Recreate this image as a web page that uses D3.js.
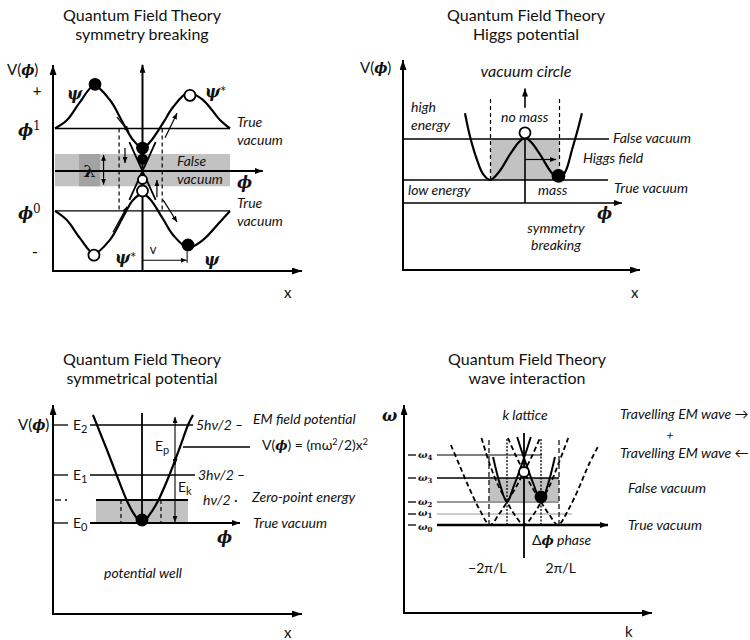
<!DOCTYPE html>
<html>
<head>
<meta charset="utf-8">
<script src="https://cdn.jsdelivr.net/npm/d3@7"></script>
<style>
  body { margin: 0; background: #fff; }
  svg { display: block; }
  text { font-family: Lato, "Open Sans", sans-serif; fill: #111; }
  .gk { font-family: "DejaVu Serif", serif; font-style: italic; font-weight: bold; }
  .sr { font-family: "DejaVu Serif", serif; }
</style>
</head>
<body>
<script>
// ---------- symmetry breaking (phi in field units, V in energy units) ----------
const sbUpper = [[-4,0.5],[-3.45,0.6],[-2.86,0.81],[-2.22,1.0],[-1.49,0.835],[-0.89,0.565],[-0.43,0.365],[0,0.27],[0.34,0.34],[0.94,0.565],[1.39,0.75],[2.08,0.92],[2.77,0.835],[3.54,0.6],[4,0.5]];
const sbLower = [[-4,-0.47],[-3.45,-0.58],[-2.86,-0.79],[-2.22,-0.97],[-1.49,-0.81],[-0.89,-0.54],[-0.43,-0.34],[0,-0.27],[0.34,-0.33],[0.94,-0.565],[1.39,-0.75],[2.08,-0.9],[2.77,-0.81],[3.54,-0.6],[4,-0.47]];
const sbVacua = [0.5, -0.47];
const sbBand = [-0.18, 0.2];
const sbWalls = [-1.07, 0.9];
const sbCross = [[[-0.6,0.34],[0.6,-0.34]], [[0.6,0.34],[-0.6,-0.34]]];
const sbStates = [
  {phi:-2.17, v:1.02, filled:true,  big:true},
  {phi: 2.17, v:0.89, filled:false, big:true},
  {phi:-2.22, v:-0.99, filled:false, big:true},
  {phi: 2.08, v:-0.87, filled:true,  big:true},
  {phi: 0, v:0.27,  filled:true,  big:true},
  {phi: 0, v:0.14,  filled:true,  big:false},
  {phi: 0, v:-0.1,  filled:false, big:false},
  {phi: 0, v:-0.235, filled:false, big:true}
];
const sbFlow = [
  [[-1.17,0.635],[-0.62,0.46]], [[-0.8,0.27],[-0.8,0.094]], [[0.66,-0.31],[0.66,-0.106]],
  [[1.03,0.39],[1.58,0.68]], [[-1.35,-0.72],[-0.71,-0.42]], [[0.94,-0.34],[1.58,-0.6]]
];

// ---------- Higgs potential ----------
const higgsCurve = [[-1.74,1.63],[-1.59,1.05],[-1.39,0.49],[-1.22,0.15],[-1.01,0],[-0.75,0.2],[-0.43,0.63],[-0.17,0.93],[0,1.02],[0.17,0.93],[0.43,0.63],[0.75,0.2],[0.99,0],[1.19,0.24],[1.36,0.73],[1.51,1.17],[1.65,1.63]];
const higgsFalseVac = 1;
const higgsTrueVac = 0;
const higgsAxis = -0.56;
const higgsMinima = [-1, 1];
const higgsStates = [{phi:0, v:1.15, filled:false}, {phi:0.97, v:0.1, filled:true}];

// ---------- harmonic well ----------
const wellCurve = [[-0.98,10.8],[-0.9,9.8],[-0.7,7.3],[-0.5,4.7],[-0.3,2.2],[-0.16,0.9],[0,0],[0.16,0.9],[0.32,2.2],[0.54,4.7],[0.76,7.6],[0.92,9.8],[1.02,10.8]];
const wellLevels = [0, 4.8, 9.8];
const wellLevelSubs = ["0", "1", "2"];
const wellQuanta = ["hν/2 ·", "3hν/2 –", "5hν/2 –"];
const zeroPoint = 2.3;
const zeroWalls = [-0.42, 0.38];
const wellState = {phi:0, v:0.3};

// ---------- lattice dispersion (k in units of 2π/L) ----------
const bandLeft   = [[-2.15,8.0],[-1.9,6.0],[-1.6,3.6],[-1.3,1.5],[-1.0,0],[-0.75,1.0],[-0.5,2.3],[-0.25,3.7],[0,5.3],[0.25,7.0],[0.47,8.7]];
const bandCenter = [[-1.25,8.7],[-1.0,6.0],[-0.75,3.9],[-0.5,2.3],[-0.25,0.9],[0,0],[0.25,0.9],[0.5,2.3],[0.75,3.9],[1.0,6.0],[1.3,8.7]];
const bandRight  = [[-0.47,8.7],[-0.25,7.0],[0,5.3],[0.25,3.7],[0.5,2.3],[0.75,1.0],[1.0,0],[1.3,1.5],[1.6,3.6],[1.9,6.0],[2.2,8.0]];
const latticeLeft  = [[-0.91,6.8],[-0.7,4.0],[-0.5,2.3],[-0.3,3.9],[0,6.7],[0.2,8.8]];
const latticeRight = [[0.91,6.8],[0.7,4.0],[0.5,2.3],[0.3,3.9],[0,6.7],[-0.2,8.8]];
const omegaValues = [0, 1.1, 2.3, 4.7, 7.0];
const omegaSubs = ["0", "1", "2", "3", "4"];
const kTickValues = [-1, 1];
const kTickLabels = ["−2π/L", "2π/L"];
const latticeStates = [{k:0, w:5.3, filled:false}, {k:0.5, w:2.8, filled:true}];

// ================= drawing =================
const svg = d3.select("body").append("svg").attr("width", 750).attr("height", 640);
const defs = svg.append("defs");
function marker(id, w, h) {
  defs.append("marker").attr("id", id)
    .attr("viewBox", `0 0 ${w} ${h}`).attr("refX", w).attr("refY", h / 2)
    .attr("markerWidth", w).attr("markerHeight", h)
    .attr("markerUnits", "userSpaceOnUse").attr("orient", "auto-start-reverse")
    .append("path").attr("d", `M0,0L${w},${h / 2}L0,${h}Z`).attr("fill", "#000");
}
marker("ah", 10, 7);
marker("am", 8, 6);
marker("as", 6, 5);

function seg(g, x1, y1, x2, y2, o = {}) {
  const l = g.append("line").attr("x1", x1).attr("y1", y1).attr("x2", x2).attr("y2", y2)
    .attr("stroke", o.color || "#000").attr("stroke-width", o.w || 1.3);
  if (o.dash) l.attr("stroke-dasharray", o.dash);
  if (o.end) l.attr("marker-end", `url(#${o.end})`);
  if (o.start) l.attr("marker-start", `url(#${o.start})`);
  return l;
}
function label(x, y, parts, o = {}) {
  const t = svg.append("text").attr("x", x).attr("y", y)
    .attr("font-size", o.size || 14).attr("text-anchor", o.anchor || "start");
  if (o.italic) t.attr("font-style", "italic");
  if (o.cls) t.attr("class", o.cls);
  (Array.isArray(parts) ? parts : [parts]).forEach(p => {
    if (typeof p === "string") { t.append("tspan").text(p); return; }
    const s = t.append("tspan").text(p.t);
    if (p.cls) s.attr("class", p.cls);
    if (p.size) s.attr("font-size", p.size);
    if (p.dy) s.attr("dy", p.dy);
    if (p.style) s.attr("font-style", p.style);
    if (p.weight) s.attr("font-weight", p.weight);
  });
  return t;
}
function frame(f) {
  seg(svg, f.left, f.bottom, f.left, f.top, {w: 2, end: "ah"});
  seg(svg, f.left - 1, f.bottom, f.right, f.bottom, {w: 2, end: "ah"});
}
function title(cx, y, l1, l2) {
  label(cx, y, l1, {size: 16, anchor: "middle"});
  label(cx, y + 19, l2, {size: 16, anchor: "middle"});
}
function dot(g, x, y, r, filled) {
  g.append("circle").attr("cx", x).attr("cy", y).attr("r", r)
    .attr("fill", filled ? "#000" : "#fff").attr("stroke", "#000").attr("stroke-width", 1.8);
}
const smooth = d3.curveCatmullRom.alpha(0.5);

// ---------------- panel: symmetry breaking ----------------
{
  const x = d3.scaleLinear().domain([-4, 4]).range([55, 230]);
  const y = d3.scaleLinear().domain([-1, 1]).range([256, 86]);
  const g = svg.append("g");
  const line = d3.line().x(d => x(d[0])).y(d => y(d[1])).curve(smooth);

  g.append("rect").attr("x", x(-4)).attr("width", x(4) - x(-4))
    .attr("y", y(sbBand[1])).attr("height", y(sbBand[0]) - y(sbBand[1])).attr("fill", "#c2c2c2");
  g.append("rect").attr("x", x(-2.9)).attr("width", x(-1.94) - x(-2.9))
    .attr("y", y(sbBand[1])).attr("height", y(sbBand[0]) - y(sbBand[1])).attr("fill", "#a3a3a3");

  sbVacua.forEach(v => seg(g, x(-4), y(v), x(4), y(v), {w: 1.3}));
  seg(g, x(-4), y(0), x(5.5), y(0), {w: 2, end: "am"});
  seg(g, x(0), y(-1.18), x(0), y(1.25), {w: 2, end: "am"});
  sbWalls.forEach(p => seg(g, x(p), y(sbVacua[0]), x(p), y(sbVacua[1]), {w: 1.2, dash: "4,3"}));
  seg(g, x(-1.78), y(0.19), x(-1.78), y(-0.16), {w: 1.2, start: "as", end: "as"});

  g.append("path").attr("d", line(sbUpper)).attr("fill", "none").attr("stroke", "#000").attr("stroke-width", 2.2);
  g.append("path").attr("d", line(sbLower)).attr("fill", "none").attr("stroke", "#000").attr("stroke-width", 2.2);
  sbCross.forEach(c => seg(g, x(c[0][0]), y(c[0][1]), x(c[1][0]), y(c[1][1]), {w: 1.8}));
  sbFlow.forEach(a => seg(g, x(a[0][0]), y(a[0][1]), x(a[1][0]), y(a[1][1]), {w: 1.2, end: "as"}));
  sbStates.forEach(s => dot(g, x(s.phi), y(s.v), s.big ? 5.5 : 4.5, s.filled));

  // displacement v
  seg(g, x(0), y(-1.05), x(2.02), y(-1.05), {w: 1, end: "as"});
  seg(g, x(2.04), y(-0.88), x(2.04), y(-1.08), {w: 1});

  title(142, 21, "Quantum Field Theory", "symmetry breaking");
  frame({left: 53, top: 65, bottom: 271, right: 302});
  label(7, 75, ["V(", {t: "ϕ", cls: "gk", size: 14}, ")"], {size: 15});
  label(37, 96, "+", {size: 15, anchor: "middle"});
  label(18, 136, [{t: "ϕ", cls: "gk", size: 16}, {t: "1", cls: "sr", size: 12, dy: -6}]);
  label(18, 219, [{t: "ϕ", cls: "gk", size: 16}, {t: "0", cls: "sr", size: 12, dy: -6}]);
  label(35, 258, "-", {size: 17, anchor: "middle"});
  label(x(-2.17) - 28, 99, [{t: "ψ", cls: "gk", size: 16}]);
  label(205, 97, [{t: "ψ", cls: "gk", size: 16}, {t: "*", size: 15}]);
  label(115, 263, [{t: "ψ", cls: "gk", size: 16}, {t: "*", size: 15}]);
  label(204, 265, [{t: "ψ", cls: "gk", size: 16}]);
  label(153, 254, "v", {size: 13, anchor: "middle"});
  label(x(-2.42), 177, "λ", {size: 17, cls: "sr", anchor: "middle"}).attr("font-weight", "bold");
  label(177, 166, "False", {italic: true});
  label(177, 184, "vacuum", {italic: true});
  label(237, 127, "True", {italic: true});
  label(237, 145, "vacuum", {italic: true});
  label(237, 208, "True", {italic: true});
  label(237, 226, "vacuum", {italic: true});
  label(237, 188, [{t: "ϕ", cls: "gk", size: 16}]);
  label(284, 298, "x", {size: 15});
}

// ---------------- panel: Higgs potential ----------------
{
  const x = d3.scaleLinear().domain([-1, 1]).range([490.5, 559.5]);
  const y = d3.scaleLinear().domain([0, 1]).range([180, 139]);
  const g = svg.append("g");
  const line = d3.line().x(d => x(d[0])).y(d => y(d[1])).curve(smooth);

  g.append("rect").attr("x", x(higgsMinima[0])).attr("width", x(higgsMinima[1]) - x(higgsMinima[0]))
    .attr("y", y(higgsFalseVac)).attr("height", y(higgsTrueVac) - y(higgsFalseVac)).attr("fill", "#c2c2c2");
  higgsMinima.forEach(p => seg(g, x(p), y(higgsTrueVac), x(p), y(2.0), {w: 1.2, dash: "4,3"}));
  seg(g, 403, y(higgsFalseVac), 609, y(higgsFalseVac), {w: 1.4});
  seg(g, 403, y(higgsTrueVac), 608, y(higgsTrueVac), {w: 1.4});
  seg(g, 403, y(higgsAxis), 622, y(higgsAxis), {w: 1.6, end: "am"});
  seg(g, x(0), y(higgsFalseVac), x(0), y(higgsAxis), {w: 1.6});
  seg(g, x(0), y(1.76), x(0), y(2.23), {w: 1.6, end: "am"});
  seg(g, x(0), y(0.5), x(0.9), y(0.5), {w: 1.2, end: "as"});
  g.append("path").attr("d", line(higgsCurve)).attr("fill", "none").attr("stroke", "#000").attr("stroke-width", 2.2);
  higgsStates.forEach(s => dot(g, x(s.phi), y(s.v), s.filled ? 6 : 5.5, s.filled));

  title(526, 21, "Quantum Field Theory", "Higgs potential");
  frame({left: 403, top: 60, bottom: 270, right: 640});
  label(360, 73, ["V(", {t: "ϕ", cls: "gk", size: 14}, ")"], {size: 15});
  label(526, 77, "vacuum circle", {size: 16, italic: true, anchor: "middle"});
  label(501, 122, "no mass", {italic: true});
  label(411, 112, "high", {italic: true});
  label(411, 130, "energy", {italic: true});
  label(613, 143, "False vacuum", {italic: true});
  label(583, 163, "Higgs field", {italic: true});
  label(614, 193, "True vacuum", {italic: true});
  label(408, 195, "low energy", {italic: true});
  label(538, 195, "mass", {italic: true});
  label(597, 219, [{t: "ϕ", cls: "gk", size: 16}]);
  label(556, 233, "symmetry", {italic: true, anchor: "middle"});
  label(556, 250, "breaking", {italic: true, anchor: "middle"});
  label(631, 298, "x", {size: 15});
}

// ---------------- panel: symmetrical potential ----------------
{
  const x = d3.scaleLinear().domain([-1, 1]).range([92, 192]);
  const y = d3.scaleLinear().domain([0, 10]).range([523, 423]);
  const g = svg.append("g");
  const line = d3.line().x(d => x(d[0])).y(d => y(d[1])).curve(smooth);

  g.append("rect").attr("x", x(-0.92)).attr("width", x(0.92) - x(-0.92))
    .attr("y", y(zeroPoint)).attr("height", y(0) - y(zeroPoint)).attr("fill", "#c2c2c2");
  zeroWalls.forEach(p => seg(g, x(p), y(zeroPoint), x(p), y(0), {w: 1.2, dash: "4,3"}));
  seg(g, x(-0.92), y(zeroPoint), x(0.92), y(zeroPoint), {w: 2});
  seg(g, x(-1.04), y(wellLevels[2]), x(1.02), y(wellLevels[2]), {w: 1.3});
  seg(g, x(-1.04), y(wellLevels[1]), x(1.06), y(wellLevels[1]), {w: 1.3});
  seg(g, x(-1.04), y(wellLevels[0]), x(1.96), y(wellLevels[0]), {w: 2.2, end: "am"});
  seg(g, x(0), y(0), x(0), y(11), {w: 1.8});
  seg(g, x(0.66), y(0.1), x(0.66), y(10.6), {w: 1.1, start: "as", end: "as"});
  seg(g, x(0.66), y(6.6), x(0.66), y(5.8), {w: 1.1, end: "as"});
  seg(g, x(0.82), y(7.6), x(2.16), y(7.6), {w: 1.4});
  g.append("path").attr("d", line(wellCurve)).attr("fill", "none").attr("stroke", "#000").attr("stroke-width", 2.2);
  dot(g, x(wellState.phi), y(wellState.v), 5.5, true);

  // level ticks on the V axis
  wellLevels.forEach((v, i) => {
    seg(g, 54, y(v), 68, y(v), {w: 1.3});
    label(73, y(v) + 5, ["E", {t: wellLevelSubs[i], size: 11, dy: 3}], {size: 14});
  });
  seg(g, 55, y(zeroPoint), 61, y(zeroPoint), {w: 1.3});
  seg(g, 65, y(zeroPoint), 67, y(zeroPoint), {w: 1.3});
  label(196, y(wellLevels[2]) + 5, wellQuanta[2], {italic: true});
  label(198, y(wellLevels[1]) + 5, wellQuanta[1], {italic: true});
  label(203, y(zeroPoint) + 5, wellQuanta[0], {italic: true});

  title(142, 365, "Quantum Field Theory", "symmetrical potential");
  frame({left: 53, top: 405, bottom: 614, right: 302});
  label(18, 430, ["V(", {t: "ϕ", cls: "gk", size: 14}, ")"], {size: 15});
  label(155, 451, ["E", {t: "p", size: 11, dy: 3}], {size: 14});
  label(178, 492, ["E", {t: "k", size: 11, dy: 3}], {size: 14});
  label(253, 424, "EM field potential", {italic: true});
  label(262, 450, ["V(", {t: "ϕ", cls: "gk", size: 13}, ") = (mω", {t: "2", size: 9, dy: -5}, {t: "/2)x", dy: 5}, {t: "2", size: 9, dy: -5}], {size: 14});
  label(252, 502, "Zero-point energy", {italic: true});
  label(253, 528, "True vacuum", {italic: true});
  label(217, 543, [{t: "ϕ", cls: "gk", size: 16}]);
  label(143, 578, "potential well", {italic: true, anchor: "middle"});
  label(284, 638, "x", {size: 15});
}

// ---------------- panel: wave interaction ----------------
{
  const x = d3.scaleLinear().domain([-1, 1]).range([490, 558]);
  const y = d3.scaleLinear().domain([0, 10]).range([525, 425]);
  const g = svg.append("g");
  const line = d3.line().x(d => x(d[0])).y(d => y(d[1])).curve(smooth);

  g.append("rect").attr("x", x(-1.03)).attr("width", x(1.03) - x(-1.03))
    .attr("y", y(omegaValues[3])).attr("height", y(omegaValues[2]) - y(omegaValues[3])).attr("fill", "#c2c2c2");

  const levelEnds = [2.47, 1.41, 1.03, 1.03, 0.53];
  const levelStyle = [{w: 2.4, c: "#000"}, {w: 1.2, c: "#999"}, {w: 2, c: "#999"}, {w: 1.5, c: "#000"}, {w: 1.2, c: "#000"}];
  const labelNudge = [1.5, -1.5, -0.5, 0, 0];
  omegaValues.forEach((w, i) => {
    seg(g, x(-2.56), y(w), x(levelEnds[i]), y(w), {w: levelStyle[i].w, color: levelStyle[i].c, end: i === 0 ? "am" : null});
    seg(g, 408, y(w), 416, y(w), {w: 1.3});
    label(418, y(w) + 3 + labelNudge[i], [{t: "ω", cls: "gk", size: 10}, {t: omegaSubs[i], cls: "sr", size: 7, dy: 2, weight: "bold"}]);
  });
  [-1.03, 1.03].forEach(k => seg(g, x(k), y(0), x(k), y(8.7), {w: 1.2, dash: "5,3"}));
  [-0.5, 0.5].forEach(k => seg(g, x(k), y(0), x(k), y(8.7), {w: 1.3, dash: "2,1.5"}));
  seg(g, x(0), y(-3.3), x(0), y(9.2), {w: 1.8});

  [bandLeft, bandCenter, bandRight].forEach(b =>
    g.append("path").attr("d", line(b)).attr("fill", "none").attr("stroke", "#000")
      .attr("stroke-width", 1.8).attr("stroke-dasharray", "5,3"));
  [latticeLeft, latticeRight].forEach(b =>
    g.append("path").attr("d", line(b)).attr("fill", "none").attr("stroke", "#000").attr("stroke-width", 2));
  latticeStates.forEach(s => dot(g, x(s.k), y(s.w), s.filled ? 5.5 : 5, s.filled));

  kTickValues.forEach((k, i) => label(x(k * 1.08), 573, kTickLabels[i], {anchor: "middle"}));

  title(527, 365, "Quantum Field Theory", "wave interaction");
  frame({left: 404, top: 405, bottom: 613, right: 652});
  label(382, 421, [{t: "ω", cls: "gk", size: 16}]);
  label(525, 420, "k lattice", {italic: true, anchor: "middle"});
  label(532, 545, ["Δ", {t: "ϕ", cls: "gk", size: 13}, {t: " phase", style: "italic"}]);
  label(620, 419, "Travelling EM wave →", {italic: true});
  label(670, 439, "+", {size: 12, italic: true, anchor: "middle"});
  label(620, 458, "Travelling EM wave ←", {italic: true});
  label(628, 493, "False  vacuum", {italic: true});
  label(628, 530, "True vacuum", {italic: true});
  label(625, 637, "k", {size: 15});
}
</script>
</body>
</html>
